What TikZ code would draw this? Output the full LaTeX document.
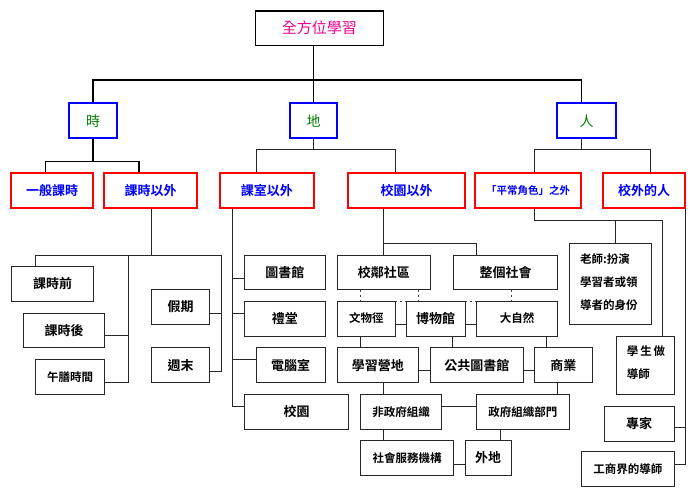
\documentclass[tikz,border=0pt]{standalone}
\usepackage{fontspec}
\setmainfont{Noto Sans CJK TC}[BoldFont={Noto Sans CJK TC Bold}]
\begin{document}
\begin{tikzpicture}[x=1pt,y=-1pt,
  base/.style={rectangle,inner sep=0pt,fill=white,align=center},
  topbox/.style={base,draw=black,line width=1.6pt,text=magenta,font=\fontsize{15}{18}\selectfont},
  lvlone/.style={base,draw=blue,line width=2pt,text=green!50!black,font=\fontsize{14}{17}\selectfont},
  lvltwo/.style={base,draw=red,line width=2pt,text=blue,font=\fontsize{13}{16}\selectfont\bfseries},
  bx/.style={base,draw=black!85,line width=1pt,font=\fontsize{13}{16}\selectfont\bfseries},
  sbx/.style={bx,font=\fontsize{11.5}{14}\selectfont\bfseries},
  conn/.style={draw=black!85,line width=1pt},
  tconn/.style={draw=black,line width=1.3pt},
  dconn/.style={draw=black!70,line width=1pt,dash pattern=on 2pt off 3pt}
]
\useasboundingbox (0,0) rectangle (700,496);

\coordinate (hubL) at (93,80);
\coordinate (hubR) at (581.3,80);

% top levels
\node[topbox,minimum width=128pt,minimum height=34.6pt] (top) at (319.3,28) {全方位學習};
\node[lvlone,minimum width=47.4pt,minimum height=34.7pt] (shi) at (93,120.7) {時};
\node[lvlone,minimum width=47.3pt,minimum height=34.7pt] (di) at (313.7,120.7) {地};
\node[lvlone,minimum width=58.7pt,minimum height=34.7pt] (ren) at (586.7,120.7) {人};

\node[lvltwo,minimum width=82pt,minimum height=35.3pt] (ybks) at (52,190.3) {一般課時};
\node[lvltwo,minimum width=93pt,minimum height=35.3pt] (kswy) at (150.5,190.3) {課時以外};
\node[lvltwo,minimum width=93.7pt,minimum height=35.3pt] (ksyw) at (266.8,190.3) {課室以外};
\node[lvltwo,minimum width=117pt,minimum height=35.3pt] (xyyw) at (406.5,190.3) {校園以外};
\node[lvltwo,minimum width=106pt,minimum height=35.3pt,font=\fontsize{10.5}{13}\selectfont\bfseries] (pcjs) at (528,190.3) {「平常角色」之外};
\node[lvltwo,minimum width=82pt,minimum height=35.3pt] (xwdr) at (644,190.3) {校外的人};

% time branch
\node[bx,minimum width=81.6pt,minimum height=35pt] (kqs) at (52.5,283.5) {課時前};
\node[bx,minimum width=81pt,minimum height=34.4pt] (ksh) at (64.2,330.5) {課時後};
\node[sbx,minimum width=69.4pt,minimum height=34.7pt] (wssj) at (70,376.7) {午膳時間};
\node[bx,minimum width=58pt,minimum height=34.6pt] (jq) at (180.7,307) {假期};
\node[bx,minimum width=58pt,minimum height=35pt] (zm) at (180.7,365.2) {週末};

% place branch
\node[bx,minimum width=81pt,minimum height=34.3pt] (tsg) at (284.8,272.2) {圖書館};
\node[bx,minimum width=81pt,minimum height=35pt] (lt) at (284.8,318.5) {禮堂};
\node[bx,minimum width=69.3pt,minimum height=35pt] (dns) at (290.7,365.2) {電腦室};
\node[bx,minimum width=104.4pt,minimum height=35.3pt] (xy) at (296.5,411.7) {校園};

\coordinate (dotL) at (360,301);
\coordinate (dotR) at (511,301);
\draw[dconn] (dotL) -- (dotR);

\node[bx,minimum width=93pt,minimum height=34.3pt] (xlsq) at (383.8,272.2) {校鄰社區};
\node[bx,minimum width=104.4pt,minimum height=34.3pt] (zgsh) at (505.5,272.2) {整個社會};
\node[sbx,minimum width=58pt,minimum height=35pt] (wwj) at (366.3,318.5) {文物徑};
\node[bx,minimum width=58.7pt,minimum height=35pt] (bwg) at (435.7,318.5) {博物館};
\node[sbx,minimum width=81.4pt,minimum height=35pt] (dzr) at (517,318.5) {大自然};
\node[bx,minimum width=81pt,minimum height=35pt] (xxyd) at (377.8,365.2) {學習營地};
\node[bx,minimum width=93pt,minimum height=35pt] (ggtsg) at (476.8,365.2) {公共圖書館};
\node[bx,minimum width=58pt,minimum height=35pt] (sy) at (563.3,365.2) {商業};
\node[sbx,minimum width=80.6pt,minimum height=35.3pt] (fzf) at (401,411.7) {非政府組織};
\node[sbx,minimum width=93pt,minimum height=35.3pt] (zfzz) at (522.8,411.7) {政府組織部門};
\node[sbx,minimum width=93pt,minimum height=34.6pt] (shfw) at (407.2,458) {社會服務機構};
\node[bx,minimum width=45.7pt,minimum height=34.6pt] (wd) at (488.2,458) {外地};

% people branch
\node[bx,minimum width=81.7pt,minimum height=81pt] (ls) at (610.2,283.8) {};
\node[font=\fontsize{11.5}{14}\selectfont\bfseries,anchor=north west,inner sep=0pt,align=left] (lstxt) at (580,253) {老師:扮演\\[9pt]學習者或領\\[9pt]導者的身份};
\node[bx,minimum width=58.3pt,minimum height=58pt] (xszds) at (645.2,365) {};
\node[font=\fontsize{11.5}{14}\selectfont\bfseries,anchor=north west,inner sep=0pt,align=left] (xstxt) at (626.7,346) {學\,生\,做\\[9pt]導師};
\node[bx,minimum width=70.3pt,minimum height=35pt] (zj) at (639.2,423.5) {專家};
\node[sbx,minimum width=93pt,minimum height=34.7pt] (gsj) at (627.8,469.3) {工商界的導師};

% connectors: top
\draw[tconn] (top.south -| di.north) -- (di.north);
\draw[tconn] (shi.north) -- (hubL) -- (hubR) -- (ren.north -| hubR);
\draw[tconn] (shi.south) -- (shi.south |- 0,161.7);
\draw[tconn] (ybks.north -| 45.7,0) -- (45.7,161.7) -- (139,161.7) -- (kswy.north -| 139,0);
\draw[conn] (di.south) -- (di.south |- 0,149.7);
\draw[conn] (ksyw.north -| 256,0) -- (256,149.7) -- (395,149.7) -- (xyyw.north -| 395,0);
\draw[conn] (ren.south -| hubR) -- (581.3,149.7);
\draw[conn] (pcjs.north -| 534,0) -- (534,149.7) -- (650.3,149.7) -- (xwdr.north -| 650.3,0);

% time children
\draw[conn] (kswy.south -| 151.7,0) -- (151.7,255);
\draw[conn] (kqs.north -| 35,0) -- (35,255) -- (221,255) -- (221,371) -- (zm.east |- 0,371);
\draw[conn] (128,255) -- (128,382.3) -- (wssj.east |- 0,382.3);
\draw[conn] (128,335.7) -- (ksh.east |- 0,335.7);
\draw[conn] (221,313) -- (jq.east |- 0,313);

% place children
\draw[conn] (ksyw.south -| 232.3,0) -- (232.3,406.7) -- (xy.west |- 0,406.7);
\draw[conn] (232.3,278.3) -- (tsg.west |- 0,278.3);
\draw[conn] (232.3,313.3) -- (lt.west |- 0,313.3);
\draw[conn] (232.3,359.3) -- (dns.west |- 0,359.3);

\draw[conn] (xyyw.south -| 383.3,0) -- (xlsq.north -| 383.3,0);
\draw[conn] (383.3,243) -- (476.7,243) -- (zgsh.north -| 476.7,0);
\draw[dconn] (xlsq.south -| 360,0) -- (wwj.north -| 360,0);
\draw[dconn] (xlsq.south -| 418.3,0) -- (bwg.north -| 418.3,0);
\draw[dconn] (zgsh.south -| 511,0) -- (dzr.north -| 511,0);
\draw[conn] (wwj.east |- 0,324.3) -- (bwg.west |- 0,324.3);
\draw[conn] (bwg.east |- 0,324.3) -- (dzr.west |- 0,324.3);
\draw[conn] (wwj.south -| 360,0) -- (xxyd.north -| 360,0);
\draw[conn] (bwg.south -| 452.7,0) -- (ggtsg.north -| 452.7,0);
\draw[conn] (dzr.south -| 546,0) -- (sy.north -| 546,0);
\draw[conn] (xxyd.east |- 0,370.7) -- (ggtsg.west |- 0,370.7);
\draw[conn] (ggtsg.east |- 0,370.7) -- (sy.west |- 0,370.7);
\draw[conn] (xxyd.south -| 383.3,0) -- (fzf.north -| 383.3,0);
\draw[conn] (sy.south -| 557.7,0) -- (zfzz.north -| 557.7,0);
\draw[conn] (fzf.east |- 0,406) -- (zfzz.west |- 0,406);
\draw[conn] (fzf.south -| 383.3,0) -- (shfw.north -| 383.3,0);
\draw[conn] (zfzz.south -| 500,0) -- (wd.north -| 500,0);
\draw[conn] (shfw.east |- 0,464) -- (wd.west |- 0,464);

% people children
\draw[conn] (pcjs.south -| 534,0) -- (534,220.3) -- (662.3,220.3) -- (xszds.north -| 662.3,0);
\draw[conn] (615.7,220.3) -- (ls.north -| 615.7,0);
\draw[conn] (xwdr.south -| 685.7,0) -- (685.7,464) -- (gsj.east |- 0,464);
\draw[conn] (685.7,427.7) -- (zj.east |- 0,427.7);
\end{tikzpicture}
\end{document}
